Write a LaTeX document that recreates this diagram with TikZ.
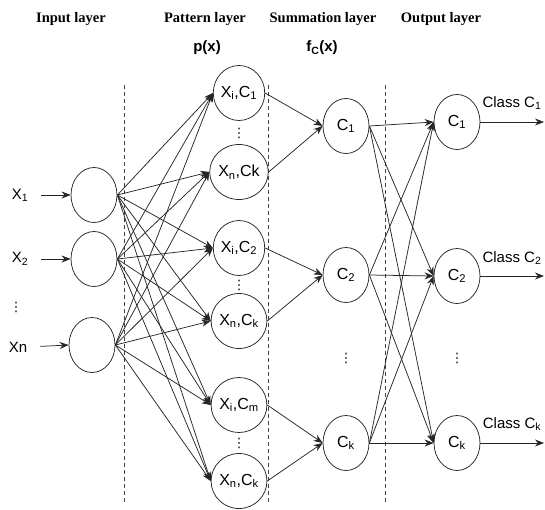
\documentclass[tikz,border=0pt]{standalone}
\usepackage{fontspec}
\setmainfont{Liberation Sans}
\newfontfamily\headfont{Liberation Serif}
\newfontfamily\symfont{DejaVu Sans}
\usetikzlibrary{arrows.meta,shapes.geometric}

\tikzset{
  unit/.style={ellipse, draw=black!85, line width=0.75pt, minimum width=46pt, minimum height=55pt, inner sep=0pt, font=\fontsize{16}{16}\selectfont},
  arr/.style={draw=black!85, line width=0.75pt, -{Stealth[length=9pt,width=7pt]}},
  sep/.style={draw=black!75, line width=0.6pt, dash pattern=on 4pt off 3pt},
  head/.style={font=\headfont\bfseries\fontsize{14.5}{15}\selectfont},
  lbl/.style={font=\fontsize{15}{15}\selectfont, inner sep=0pt},
  dots/.style={font=\symfont\fontsize{13}{13}\selectfont, inner sep=0pt}
}

\begin{document}
\begin{tikzpicture}[x=1pt,y=-1pt]
  \useasboundingbox (0,0) rectangle (545,509);

  % layer titles
  \node[head] (tin) at (71,19) {Input layer};
  \node[head] (tpat) at (205,19) {Pattern layer};
  \node[head] (tsum) at (323,19) {Summation layer};
  \node[head] (tout) at (441,19) {Output layer};
  \node[lbl, font=\bfseries\fontsize{15}{15}\selectfont] (px) at (207,48) {p(x)};
  \node[lbl, font=\bfseries\fontsize{15}{15}\selectfont] (fx) at (322,48) {f\textsubscript{C}(x)};

  % dashed separators
  \draw[sep] (124,85) -- (124,503);
  \draw[sep] (268,85) -- (268,503);
  \draw[sep] (385,85) -- (385,503);

  % input layer
  \node[unit] (in1) at (94,195) {};
  \node[unit] (in2) at (94,259) {};
  \node[unit] (in3) at (92,345) {};
  \node[lbl] (x1) at (20,195) {X\textsubscript{1}};
  \node[lbl] (x2) at (20,259) {X\textsubscript{2}};
  \node[dots] (xd) at (16,307) {⋮};
  \node[lbl] (xn) at (18,347) {Xn};
  \draw[arr, shorten <=13pt] (x1.east) -- (in1.west);
  \draw[arr, shorten <=13pt] (x2.east) -- (in2.west);
  \draw[arr, shorten <=13pt] (xn.east) -- (in3.west);

  % pattern layer
  \node[unit] (pat1) at (239,93) {X\textsubscript{i},C\textsubscript{1}};
  \node[unit] (pat2) at (239,172) {X\textsubscript{n},Ck};
  \node[unit] (pat3) at (239,248) {X\textsubscript{i},C\textsubscript{2}};
  \node[unit] (pat4) at (239,321) {X\textsubscript{n},C\textsubscript{k}};
  \node[unit] (pat5) at (239,405) {X\textsubscript{i},C\textsubscript{m}};
  \node[unit] (pat6) at (239,481) {X\textsubscript{n},C\textsubscript{k}};
  \node[dots] (pd1) at (239,133) {⋮};
  \node[dots] (pd2) at (239,285) {⋮};
  \node[dots] (pd3) at (239,443) {⋮};

  % summation layer
  \node[unit] (sum1) at (346,126) {C\textsubscript{1}};
  \node[unit] (sum2) at (346,275) {C\textsubscript{2}};
  \node[unit] (sum3) at (346,443) {C\textsubscript{k}};
  \node[dots] (sd) at (346,358) {⋮};

  % output layer
  \node[unit] (out1) at (457,122) {C\textsubscript{1}};
  \node[unit] (out2) at (457,276) {C\textsubscript{2}};
  \node[unit] (out3) at (457,443) {C\textsubscript{k}};
  \node[dots] (od) at (457,358) {⋮};
  \coordinate (end1) at (544,122);
  \coordinate (end2) at (544,276);
  \coordinate (end3) at (544,443);
  \node[lbl] (cls1) at (512,103) {Class C\textsubscript{1}};
  \node[lbl] (cls2) at (512,258) {Class C\textsubscript{2}};
  \node[lbl] (cls3) at (512,424) {Class C\textsubscript{k}};

  % connections
  \foreach \i in {1,2,3}
    \foreach \j in {1,...,6}
      \draw[arr] (in\i.east) -- (pat\j.west);
  \foreach \p/\s in {1/1,2/1,3/2,4/2,5/3,6/3}
    \draw[arr] (pat\p.east) -- (sum\s.west);
  \foreach \s in {1,2,3}
    \foreach \o in {1,2,3}
      \draw[arr] (sum\s.east) -- (out\o.west);
  \foreach \o in {1,2,3}
    \draw[arr] (out\o.east) -- (end\o);
\end{tikzpicture}
\end{document}
